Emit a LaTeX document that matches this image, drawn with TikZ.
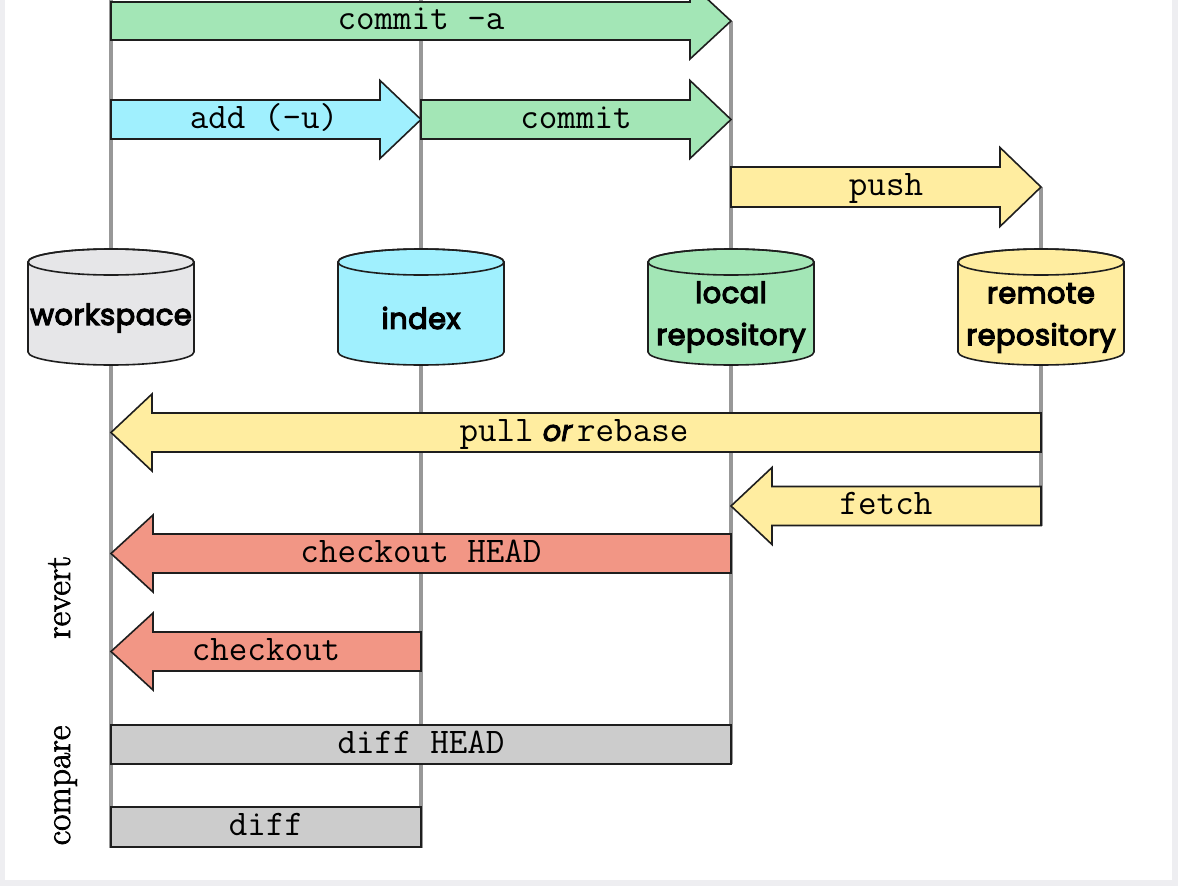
\documentclass[tikz,border=0pt]{standalone}
\usepackage{fontspec}
\newfontfamily\cylfont{Poppins}[FakeBold=4, LetterSpace=1.5]
\newfontfamily\orfont{Poppins}[FakeBold=3]
\newfontfamily\sidefont{Latin Modern Roman}[FakeBold=2]
\definecolor{gitgreen}{RGB}{163,230,182}
\definecolor{gitcyan}{RGB}{160,240,254}
\definecolor{gityellow}{RGB}{255,237,160}
\definecolor{gitred}{RGB}{242,150,133}
\definecolor{gitgray}{RGB}{204,204,204}
\definecolor{wsgray}{RGB}{230,230,232}
\definecolor{linegray}{RGB}{152,152,152}
\definecolor{bordergray}{RGB}{238,238,241}
\definecolor{outline}{RGB}{30,30,30}
\newcommand\harrow[7]{%
  \draw[arrowshape, fill=#7] (#1,#4-#5) -- (#2,#4-#5) -- (#2,#4-#6) -- (#3,#4)
    -- (#2,#4+#6) -- (#2,#4+#5) -- (#1,#4+#5) -- cycle;}
\newcommand\mycyl[2]{%
  \path[cylline, fill=#2] (#1-83,262) -- (#1-83,352)
    arc[start angle=180, end angle=360, x radius=83pt, y radius=13pt]
    -- (#1+83,262)
    arc[start angle=0, end angle=180, x radius=83pt, y radius=13pt] -- cycle;
  \draw[cylline] (#1,262) ellipse[x radius=83pt, y radius=13pt];}
\tikzset{
  vline/.style={line width=4pt, draw=linegray},
  arrowshape/.style={draw=outline, line width=1.6pt, line join=miter},
  cylline/.style={draw=outline, line width=1.6pt},
  cmd/.style={font=\ttfamily\fontsize{36}{40}\selectfont, inner sep=0pt, anchor=base},
  cyllabel/.style={font=\cylfont\fontsize{29}{42}\selectfont, align=center, inner sep=0pt},
  sidelabel/.style={font=\sidefont\fontsize{35.5}{38}\selectfont, rotate=90, inner sep=0pt, anchor=base},
}
\begin{document}
\begin{tikzpicture}[x=1pt, y=-1pt]
\useasboundingbox (0,0) rectangle (1178,886);
\clip (0,0) rectangle (1178,886);
\fill[bordergray] (0,0) rectangle (1178,886);
\fill[white] (5,0) rectangle (1172,880);

% vertical life lines
\coordinate (wsT) at (111,0);   \coordinate (wsB) at (111,848);
\coordinate (ixT) at (421,0);   \coordinate (ixB) at (421,848);
\coordinate (lrT) at (731,21);  \coordinate (lrB) at (731,764);
\coordinate (rrT) at (1041,187);\coordinate (rrB) at (1041,526);
\draw[vline] (wsT) -- (wsB);
\draw[vline] (ixT) -- (ixB);
\draw[vline] (lrT) -- (lrB);
\draw[vline] (rrT) -- (rrB);

% cylinders
\mycyl{111}{wsgray}
\mycyl{421}{gitcyan}
\mycyl{731}{gitgreen}
\mycyl{1041}{gityellow}
\node[cyllabel] (workspace) at (111,318) {workspace};
\node[cyllabel] (index) at (421,318) {index};
\node[cyllabel] (local) at (731,317) {local\\repository};
\node[cyllabel] (remote) at (1041,318) {remote\\repository};

% arrows
\harrow{111}{690}{731}{21}{19}{38}{gitgreen}
\node[cmd] (commita) at (421,29) {commit -a};
\harrow{111}{380}{421}{119.5}{19.5}{39}{gitcyan}
\node[cmd] (add) at (264,128) {add (-u)};
\harrow{421}{690}{731}{119.5}{19.5}{39}{gitgreen}
\node[cmd] (commit) at (576,128) {commit};
\harrow{731}{1000}{1041}{187}{20}{39.5}{gityellow}
\node[cmd] (push) at (886,195.5) {push};
\harrow{1041}{152}{111}{432.5}{19.5}{38.5}{gityellow}
\node[cmd] (pull) at (574,441) {pull\hspace{9pt}{\orfont\itshape\fontsize{29}{32}\selectfont or}\hspace{5pt}rebase};
\harrow{1041}{772}{731}{506}{19.5}{38.5}{gityellow}
\node[cmd] (fetch) at (886,514.5) {fetch};
\harrow{731}{153}{111}{553.5}{19.5}{38.5}{gitred}
\node[cmd] (checkouthead) at (421,562) {checkout HEAD};
\harrow{421}{153}{111}{651.5}{19.5}{38.5}{gitred}
\node[cmd] (checkout) at (266,660) {checkout};
\draw[arrowshape, fill=gitgray] (111,725) rectangle (731,764);
\node[cmd] (diffhead) at (421,753) {diff HEAD};
\draw[arrowshape, fill=gitgray] (111,807) rectangle (421,847);
\node[cmd] (diff) at (266,835.5) {diff};

% side labels
\node[sidelabel] (revert) at (70,597.5) {revert};
\node[sidelabel] (compare) at (70,785.5) {compare};
\end{tikzpicture}
\end{document}
